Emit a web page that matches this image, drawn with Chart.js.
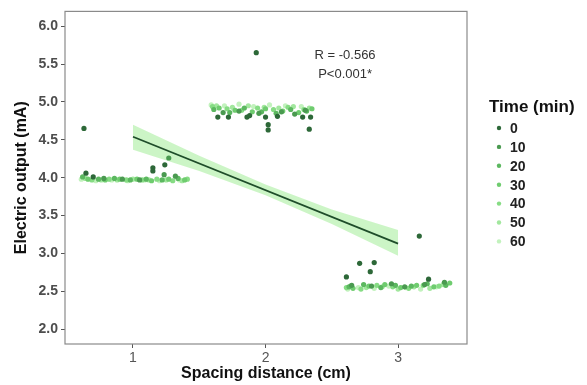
<!DOCTYPE html>
<html>
<head>
<meta charset="utf-8">
<script src="https://cdn.jsdelivr.net/npm/chart.js@4.4.1/dist/chart.umd.min.js"></script>
<style>
  html, body { margin: 0; padding: 0; background: #fff; }
  #wrap { width: 587px; height: 385px; }
</style>
</head>
<body>
<div id="wrap"><canvas id="c" width="587" height="385"></canvas></div>
<script>
// time series (min) and their colours, darkest first
const timeLabels = ['0', '10', '20', '30', '40', '50', '60'];
const timeColors = ['#2d6838', '#4a9a50', '#5cb860', '#6fcc6f', '#86dc84', '#a2e79e', '#c2f2bd'];

// points per series: [spacing (jittered), electric output]
const t0 = [
  [0.63, 4.65], [0.645, 4.06], [0.70, 4.01], [1.15, 4.13], [1.15, 4.09], [1.24, 4.17],
  [1.93, 5.65], [1.64, 4.80], [1.72, 4.80], [1.86, 4.80], [1.88, 4.82], [2.00, 4.80],
  [2.02, 4.70], [2.02, 4.63], [2.09, 4.81], [2.28, 4.80], [2.33, 4.64], [2.34, 4.80],
  [3.16, 3.23], [2.71, 2.87], [2.82, 2.88], [2.79, 2.76], [2.61, 2.69], [3.23, 2.66]
];
const t10 = [
  [1.27, 4.26], [1.235, 4.04], [1.32, 4.02], [0.78, 3.99], [0.92, 3.98], [1.05, 3.97],
  [1.68, 4.86], [1.80, 4.88], [1.95, 4.85], [2.12, 4.87], [2.22, 4.84], [2.30, 4.89],
  [2.65, 2.58], [2.80, 2.57], [2.95, 2.60], [3.05, 2.56], [3.20, 2.59], [3.35, 2.62]
];
const t20 = [
  [0.62, 4.01], [0.74, 3.98], [0.86, 3.99], [0.98, 3.97], [1.10, 3.98], [1.22, 3.97], [1.34, 3.99],
  [1.61, 4.90], [1.73, 4.86], [1.84, 4.92], [1.97, 4.87], [2.08, 4.85], [2.19, 4.90], [2.31, 4.88],
  [2.63, 2.56], [2.74, 2.59], [2.87, 2.55], [2.98, 2.58], [3.10, 2.57], [3.22, 2.60], [3.36, 2.58]
];
const t30 = [
  [0.66, 3.98], [0.79, 3.97], [0.90, 3.98], [1.03, 3.98], [1.14, 3.96], [1.27, 3.98], [1.39, 3.97],
  [1.65, 4.92], [1.77, 4.89], [1.90, 4.87], [2.00, 4.91], [2.13, 4.88], [2.25, 4.86], [2.35, 4.91],
  [2.66, 2.54], [2.78, 2.57], [2.90, 2.59], [3.02, 2.55], [3.14, 2.58], [3.27, 2.56], [3.39, 2.61]
];
const t40 = [
  [0.69, 3.97], [0.82, 3.98], [0.95, 3.97], [1.07, 3.97], [1.18, 3.98], [1.30, 3.96], [1.41, 3.98],
  [1.60, 4.94], [1.71, 4.91], [1.82, 4.89], [1.94, 4.92], [2.06, 4.90], [2.17, 4.93], [2.29, 4.90],
  [2.61, 2.55], [2.72, 2.53], [2.84, 2.58], [2.96, 2.56], [3.08, 2.54], [3.19, 2.58], [3.31, 2.57]
];
const t50 = [
  [0.64, 3.99], [0.76, 3.97], [0.88, 3.97], [1.00, 3.98], [1.12, 3.97], [1.25, 3.97], [1.37, 3.96],
  [1.63, 4.95], [1.75, 4.93], [1.87, 4.95], [1.99, 4.93], [2.10, 4.92], [2.21, 4.94], [2.33, 4.92],
  [2.64, 2.57], [2.76, 2.55], [2.88, 2.56], [3.00, 2.53], [3.12, 2.56], [3.24, 2.54], [3.34, 2.59]
];
const t60 = [
  [0.61, 3.98], [0.72, 3.96], [0.84, 3.97], [0.96, 3.96], [1.09, 3.97], [1.20, 3.96], [1.35, 3.97],
  [1.59, 4.96], [1.69, 4.95], [1.80, 4.97], [1.91, 4.94], [2.03, 4.96], [2.15, 4.95], [2.27, 4.94],
  [2.62, 2.53], [2.70, 2.55], [2.82, 2.54], [2.93, 2.57], [3.06, 2.55], [3.17, 2.53], [3.29, 2.56]
];
const seriesPoints = [t0, t10, t20, t30, t40, t50, t60];

// linear fit and its confidence band
const fitX = [1, 3];
const fitY = [4.54, 3.13];
const bandX = [1, 1.5, 2, 2.5, 3];
const bandUpper = [4.70, 4.29, 3.91, 3.58, 3.31];
const bandLower = [4.37, 4.09, 3.77, 3.39, 2.97];

const xTicks = [1, 2, 3];
const yTicks = [2.0, 2.5, 3.0, 3.5, 4.0, 4.5, 5.0, 5.5, 6.0];
const statText = ['R = -0.566', 'P<0.001*'];
const statPos = { x: 2.6, y: [5.61, 5.36] };

const toXY = (xs, ys) => xs.map((x, i) => ({ x, y: ys[i] }));

const datasets = [
  { type: 'line', data: toXY(fitX, fitY), borderColor: '#1f4d2a', borderWidth: 1.8, pointRadius: 0, fill: false }
];
seriesPoints.forEach((pts, i) => datasets.push({
  type: 'scatter', label: timeLabels[i],
  data: pts.map(p => ({ x: p[0], y: p[1] })),
  backgroundColor: timeColors[i], borderWidth: 0, pointRadius: 2.6
}));
datasets.push(
  { type: 'line', data: toXY(bandX, bandUpper), borderWidth: 0, pointRadius: 0, fill: false },
  { type: 'line', data: toXY(bandX, bandLower), borderWidth: 0, pointRadius: 0, fill: '-1', backgroundColor: 'rgba(170,238,160,0.6)' }
);

const extras = {
  id: 'extras',
  afterDraw(chart) {
    const { ctx, chartArea: a, scales: { x, y } } = chart;
    ctx.save();
    ctx.strokeStyle = '#8a8a8a';
    ctx.lineWidth = 1.2;
    ctx.strokeRect(a.left, a.top, a.right - a.left, a.bottom - a.top);

    ctx.fillStyle = '#333';
    ctx.font = '13px "Liberation Sans", Arial, sans-serif';
    ctx.textAlign = 'center';
    ctx.textBaseline = 'middle';
    statText.forEach((t, i) => ctx.fillText(t, x.getPixelForValue(statPos.x), y.getPixelForValue(statPos.y[i])));

    // legend
    const lx = a.right + 22;
    ctx.textAlign = 'left';
    ctx.fillStyle = '#111';
    ctx.font = 'bold 17px "Liberation Sans", Arial, sans-serif';
    ctx.fillText('Time (min)', lx, 107);
    ctx.font = 'bold 14px "Liberation Sans", Arial, sans-serif';
    timeLabels.forEach((lab, i) => {
      const cy = 128 + i * 18.9;
      ctx.fillStyle = timeColors[i];
      ctx.beginPath();
      ctx.arc(lx + 10, cy, 2.2, 0, Math.PI * 2);
      ctx.fill();
      ctx.fillStyle = '#222';
      ctx.fillText(lab, lx + 21, cy + 1);
    });
    ctx.restore();
  }
};

new Chart(document.getElementById('c'), {
  data: { datasets },
  options: {
    responsive: false,
    animation: false,
    devicePixelRatio: 1,
    layout: { padding: { top: 6, right: 120, left: 0, bottom: 0 } },
    plugins: { legend: { display: false }, tooltip: { enabled: false } },
    scales: {
      x: {
        type: 'linear', min: 0.487, max: 3.52,
        afterBuildTicks: s => { s.ticks = xTicks.map(v => ({ value: v })); },
        afterFit: s => { s.height = 41; },
        grid: { drawOnChartArea: false, tickLength: 4, color: '#555' },
        border: { display: false },
        ticks: { color: '#555', font: { size: 14, family: '"Liberation Sans", Arial' }, padding: 2 },
        title: { display: true, text: 'Spacing distance (cm)', color: '#111',
          font: { size: 16, weight: 'bold', family: '"Liberation Sans", Arial' }, padding: { top: 0, bottom: 2 } }
      },
      y: {
        type: 'linear', min: 1.805, max: 6.195,
        afterBuildTicks: s => { s.ticks = yTicks.map(v => ({ value: v })); },
        afterFit: s => { s.width = 65; },
        grid: { drawOnChartArea: false, tickLength: 4, color: '#555' },
        border: { display: false },
        ticks: { color: '#4d4d4d', font: { size: 14, weight: 'bold', family: '"Liberation Sans", Arial' }, padding: 3,
          callback: v => Number(v).toFixed(1) },
        title: { display: true, text: 'Electric output (mA)', color: '#111',
          font: { size: 16, weight: 'bold', family: '"Liberation Sans", Arial' }, padding: { top: 12, bottom: 0 } }
      }
    }
  },
  plugins: [extras]
});
</script>
</body>
</html>
